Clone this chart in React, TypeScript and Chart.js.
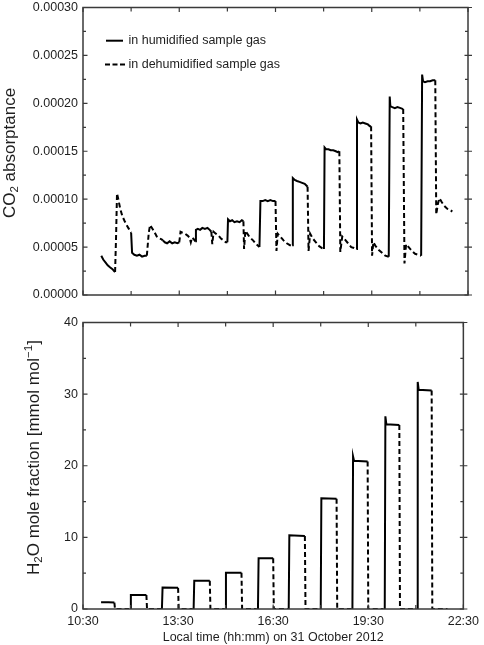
import React, { useEffect, useRef } from 'react';
import { Chart, registerables } from 'chart.js';

Chart.register(...registerables);

const FONT = '"Liberation Sans", Arial, Helvetica, sans-serif';
const TEXT = '#1e1e1e';
const AXIS = '#3a3a3a';
const LINE = '#000000';

// ---- axes ----
const timeMin = 10.5;
const timeMax = 22.5;
const timeTicks = [10.5, 13.5, 16.5, 19.5, 22.5];
const timeTickLabels = ['10:30', '13:30', '16:30', '19:30', '22:30'];
const timeMinorTicks = [12, 15, 18, 21];
const timeTitle = 'Local time (hh:mm) on 31 October 2012';

const co2Ticks = [0, 0.00005, 0.0001, 0.00015, 0.0002, 0.00025, 0.0003];
const co2TickLabels = ['0.00000', '0.00005', '0.00010', '0.00015', '0.00020', '0.00025', '0.00030'];
const co2MinorTicks = [0.000025, 0.000075, 0.000125, 0.000175, 0.000225, 0.000275];

const h2oTicks = [0, 10, 20, 30, 40];
const h2oTickLabels = ['0', '10', '20', '30', '40'];
const h2oMinorTicks = [5, 15, 25, 35];

const legendLabels = ['in humidified sample gas', 'in dehumidified sample gas'];

// ---- data: [time (h), value] segments ----
const co2Humidified: [number, number][][] = [
  [[11.07, 0.000041], [11.13, 0.000037], [11.2, 0.000034], [11.27, 0.000031], [11.34, 0.000029], [11.42, 0.000027], [11.47, 0.000025], [11.5, 0.000024]],
  [[12.0, 0.000065], [12.03, 0.000044], [12.1, 0.000042], [12.18, 0.000041], [12.26, 0.000042], [12.34, 0.00004], [12.42, 0.000041], [12.49, 0.000041]],
  [[12.99, 0.000057], [13.05, 0.000055], [13.12, 0.000054], [13.2, 0.000056], [13.28, 0.000054], [13.36, 0.000055], [13.44, 0.000054], [13.5, 0.000055]],
  [[14.0, 0.000056], [14.02, 0.000068], [14.08, 0.000069], [14.15, 0.000068], [14.22, 0.00007], [14.3, 0.000069], [14.38, 0.00007], [14.45, 0.000068], [14.5, 0.000066]],
  [[15.0, 0.000055], [15.02, 0.000079], [15.08, 0.000077], [15.15, 0.000078], [15.22, 0.000076], [15.3, 0.000077], [15.38, 0.000076], [15.45, 0.000078], [15.5, 0.000077]],
  [[16.0, 0.00005], [16.03, 0.000098], [16.1, 0.000098], [16.18, 0.000099], [16.26, 0.000098], [16.34, 0.000099], [16.42, 0.000098], [16.5, 0.000098]],
  [[17.02, 0.000052], [17.04, 0.000122], [17.1, 0.00012], [17.17, 0.000119], [17.25, 0.000118], [17.33, 0.000117], [17.41, 0.000116], [17.47, 0.000114], [17.5, 0.000113]],
  [[18.01, 0.000048], [18.03, 0.000154], [18.08, 0.000152], [18.15, 0.000152], [18.22, 0.000151], [18.3, 0.000151], [18.38, 0.00015], [18.44, 0.000149], [18.49, 0.00015]],
  [[19.02, 0.000048], [19.04, 0.000183], [19.08, 0.00018], [19.15, 0.000179], [19.22, 0.00018], [19.3, 0.000179], [19.38, 0.000178], [19.44, 0.000176], [19.48, 0.000176]],
  [[20.03, 0.00004], [20.06, 0.000207], [20.08, 0.000197], [20.14, 0.000196], [20.22, 0.000195], [20.3, 0.000196], [20.4, 0.000195], [20.48, 0.000194]],
  [[21.04, 0.000041], [21.07, 0.00023], [21.1, 0.000223], [21.16, 0.000222], [21.24, 0.000223], [21.32, 0.000223], [21.4, 0.000224], [21.48, 0.000224]],
];

const co2Dehumidified: [number, number][][] = [
  [[11.5, 0.000024], [11.53, 0.00006], [11.56, 0.000106], [11.6, 0.0001], [11.66, 0.00009], [11.73, 0.000082], [11.8, 0.000077], [11.86, 0.000073], [11.93, 0.000069], [12.0, 0.000065]],
  [[12.49, 0.000041], [12.55, 0.000065], [12.59, 0.000073], [12.65, 0.00007], [12.72, 0.000066], [12.8, 0.000061], [12.88, 0.000059], [12.95, 0.000058], [12.99, 0.000057]],
  [[13.5, 0.000055], [13.54, 0.000066], [13.6, 0.000065], [13.68, 0.000064], [13.76, 0.000062], [13.82, 0.00006], [13.86, 0.000055], [13.9, 0.00006], [13.96, 0.000058], [14.0, 0.000056]],
  [[14.5, 0.000066], [14.53, 0.000053], [14.57, 0.000066], [14.64, 0.000064], [14.72, 0.000062], [14.8, 0.000059], [14.88, 0.000057], [14.95, 0.000055], [15.0, 0.000055]],
  [[15.5, 0.000077], [15.52, 0.000048], [15.56, 0.000067], [15.62, 0.000064], [15.7, 0.00006], [15.8, 0.000057], [15.9, 0.000053], [16.0, 0.00005]],
  [[16.5, 0.000098], [16.53, 0.000046], [16.57, 0.000064], [16.65, 0.000061], [16.75, 0.000057], [16.85, 0.000054], [16.95, 0.000052], [17.02, 0.000052]],
  [[17.5, 0.000113], [17.53, 0.000046], [17.58, 0.000064], [17.66, 0.000059], [17.76, 0.000055], [17.86, 0.000051], [17.95, 0.000049], [18.01, 0.000048]],
  [[18.49, 0.00015], [18.52, 0.000045], [18.58, 0.000061], [18.66, 0.000058], [18.76, 0.000054], [18.86, 0.00005], [18.95, 0.000049], [19.02, 0.000048]],
  [[19.48, 0.000176], [19.51, 0.000041], [19.55, 0.000055], [19.62, 0.000051], [19.72, 0.000047], [19.82, 0.000044], [19.92, 0.000041], [20.03, 0.00004]],
  [[20.48, 0.000194], [20.52, 0.000033], [20.57, 0.000053], [20.65, 0.00005], [20.75, 0.000046], [20.85, 0.000043], [20.95, 0.000042], [21.04, 0.000041]],
  [[21.48, 0.000224], [21.51, 0.000084], [21.56, 0.000095], [21.61, 0.000101], [21.68, 0.000097], [21.76, 0.000093], [21.85, 0.00009], [21.94, 0.000089], [22.01, 0.000087]],
];

const h2oHumidified: [number, number][][] = [
  [[11.07, 0.95], [11.3, 0.95], [11.49, 0.9]],
  [[11.99, 0], [12.01, 1.95], [12.5, 1.95]],
  [[12.99, 0], [13.01, 3.0], [13.5, 2.95]],
  [[13.99, 0], [14.01, 3.95], [14.5, 3.95]],
  [[14.99, 0], [15.01, 5.05], [15.5, 5.05]],
  [[16.02, 0], [16.04, 7.1], [16.5, 7.1]],
  [[16.99, 0], [17.01, 10.3], [17.5, 10.2]],
  [[18.0, 0], [18.02, 15.45], [18.5, 15.4]],
  [[19.0, 0], [19.02, 21.3], [19.05, 20.7], [19.48, 20.6]],
  [[20.02, 0], [20.04, 26.9], [20.07, 25.8], [20.48, 25.7]],
  [[21.04, 0], [21.06, 31.7], [21.09, 30.6], [21.5, 30.5]],
];

const h2oDehumidified: [number, number][][] = [
  [[11.49, 0.9], [11.51, 0], [11.95, 0]],
  [[12.5, 1.95], [12.52, 0], [12.96, 0]],
  [[13.5, 2.95], [13.52, 0], [13.96, 0]],
  [[14.5, 3.95], [14.52, 0], [14.97, 0]],
  [[15.5, 5.05], [15.52, 0], [15.98, 0]],
  [[16.5, 7.1], [16.52, 0], [16.96, 0]],
  [[17.5, 10.2], [17.52, 0], [17.97, 0]],
  [[18.5, 15.4], [18.52, 0], [18.97, 0]],
  [[19.48, 20.6], [19.5, 0], [19.98, 0]],
  [[20.48, 25.7], [20.5, 0], [21.0, 0]],
  [[21.5, 30.5], [21.52, 0], [22.0, 0]],
];

// ---- helpers ----
function toPoints(segs: [number, number][][]) {
  const pts: { x: number; y: number | null }[] = [];
  segs.forEach((seg, i) => {
    if (i > 0) pts.push({ x: seg[0][0], y: null });
    seg.forEach(([x, y]) => pts.push({ x, y }));
  });
  return pts;
}

const DASH = [5, 3];

function lineDataset(segs: [number, number][][], dashed: boolean) {
  return {
    data: toPoints(segs),
    borderColor: LINE,
    borderWidth: 2,
    borderDash: dashed ? DASH : [],
    pointRadius: 0,
    tension: 0,
    spanGaps: false,
    fill: false,
  };
}

function framePlugin(yMajor: number[], yMinor: number[]) {
  return {
    id: 'frame',
    afterDatasetsDraw(chart: any) {
      const { ctx, chartArea: a, scales } = chart;
      const xs = scales.x;
      const ys = scales.y;
      ctx.save();
      ctx.strokeStyle = AXIS;
      ctx.lineWidth = 1.5;
      ctx.setLineDash([]);
      ctx.strokeRect(a.left, a.top, a.right - a.left, a.bottom - a.top);
      ctx.lineWidth = 1.2;
      ctx.beginPath();
      const seg = (x1: number, y1: number, x2: number, y2: number) => {
        ctx.moveTo(x1, y1);
        ctx.lineTo(x2, y2);
      };
      yMajor.forEach((v) => {
        const y = ys.getPixelForValue(v);
        seg(a.left, y, a.left + 4.5, y);
        seg(a.right - 3.5, y, a.right + 4, y);
      });
      yMinor.forEach((v) => {
        const y = ys.getPixelForValue(v);
        seg(a.left, y, a.left + 3, y);
        seg(a.right - 3, y, a.right, y);
      });
      timeTicks.forEach((v) => {
        const x = xs.getPixelForValue(v);
        seg(x, a.bottom, x, a.bottom - 4.5);
        seg(x, a.top, x, a.top + 4.5);
      });
      timeMinorTicks.forEach((v) => {
        const x = xs.getPixelForValue(v);
        seg(x, a.bottom, x, a.bottom - 4);
        seg(x, a.top, x, a.top + 4);
      });
      ctx.stroke();
      ctx.restore();
    },
  };
}

type Run = { t: string; size: number; dy: number };

function yTitlePlugin(runs: Run[], cx: number, cy: number) {
  return {
    id: 'ytitle',
    afterDraw(chart: any) {
      const ctx = chart.ctx;
      ctx.save();
      ctx.translate(cx, cy);
      ctx.rotate(-Math.PI / 2);
      ctx.fillStyle = TEXT;
      ctx.textAlign = 'left';
      ctx.textBaseline = 'alphabetic';
      let total = 0;
      const widths = runs.map((r) => {
        ctx.font = `${r.size}px ${FONT}`;
        const w = ctx.measureText(r.t).width;
        total += w;
        return w;
      });
      let x = -total / 2;
      runs.forEach((r, i) => {
        ctx.font = `${r.size}px ${FONT}`;
        ctx.fillText(r.t, x, r.dy);
        x += widths[i];
      });
      ctx.restore();
    },
  };
}

const legendPlugin = {
  id: 'customLegend',
  afterDraw(chart: any) {
    const ctx = chart.ctx;
    ctx.save();
    ctx.strokeStyle = LINE;
    ctx.lineWidth = 2;
    // solid sample
    ctx.setLineDash([]);
    ctx.beginPath();
    ctx.moveTo(106, 45.7);
    ctx.lineTo(123, 45.7);
    ctx.stroke();
    // dashed sample
    ctx.setLineDash([5, 2.5]);
    ctx.beginPath();
    ctx.moveTo(105, 69.5);
    ctx.lineTo(125, 69.5);
    ctx.stroke();
    ctx.setLineDash([]);
    ctx.fillStyle = TEXT;
    ctx.font = `12.5px ${FONT}`;
    ctx.textAlign = 'left';
    ctx.textBaseline = 'middle';
    ctx.fillText(legendLabels[0], 128.5, 46);
    ctx.fillText(legendLabels[1], 128.5, 69.5);
    ctx.restore();
  },
};

const tickFont = { family: FONT, size: 12.5 };

function yScale(min: number, max: number, ticks: number[], labels: string[]) {
  return {
    type: 'linear',
    min,
    max,
    grid: { display: false, drawTicks: false },
    border: { display: false },
    afterBuildTicks: (s: any) => {
      s.ticks = ticks.map((v) => ({ value: v }));
    },
    afterFit: (s: any) => {
      s.width = 83;
    },
    ticks: {
      padding: 5,
      color: TEXT,
      font: tickFont,
      autoSkip: false,
      callback: (_v: any, i: number) => labels[i],
    },
  };
}

function topConfig(): any {
  return {
    type: 'line',
    data: {
      datasets: [lineDataset(co2Humidified, false), lineDataset(co2Dehumidified, true)],
    },
    options: {
      animation: false,
      responsive: false,
      maintainAspectRatio: false,
      layout: { padding: { top: 10, right: 16, bottom: 15, left: 0 } },
      plugins: { legend: { display: false }, tooltip: { enabled: false } },
      scales: {
        x: { type: 'linear', min: timeMin, max: timeMax, display: false },
        y: yScale(0, 0.0003, co2Ticks, co2TickLabels),
      },
    },
    plugins: [
      framePlugin(co2Ticks, co2MinorTicks),
      legendPlugin,
      yTitlePlugin(
        [
          { t: 'CO', size: 17, dy: 0 },
          { t: '2', size: 11.5, dy: 3.5 },
          { t: ' absorptance', size: 17, dy: 0 },
        ],
        14.5,
        158
      ),
    ],
  };
}

function bottomConfig(): any {
  return {
    type: 'line',
    data: {
      datasets: [lineDataset(h2oHumidified, false), lineDataset(h2oDehumidified, true)],
    },
    options: {
      animation: false,
      responsive: false,
      maintainAspectRatio: false,
      layout: { padding: { top: 10, right: 16, bottom: 0, left: 0 } },
      plugins: { legend: { display: false }, tooltip: { enabled: false } },
      scales: {
        x: {
          type: 'linear',
          min: timeMin,
          max: timeMax,
          grid: { display: false, drawTicks: false },
          border: { display: false },
          afterBuildTicks: (s: any) => {
            s.ticks = timeTicks.map((v) => ({ value: v }));
          },
          afterFit: (s: any) => {
            s.height = 36;
          },
          ticks: {
            autoSkip: false,
            maxRotation: 0,
            minRotation: 0,
            padding: 5,
            color: TEXT,
            font: tickFont,
            callback: (_v: any, i: number) => timeTickLabels[i],
          },
          title: {
            display: true,
            text: timeTitle,
            color: TEXT,
            font: tickFont,
            padding: { top: 0, bottom: 0 },
          },
        },
        y: yScale(0, 40, h2oTicks, h2oTickLabels),
      },
    },
    plugins: [
      framePlugin(h2oTicks, h2oMinorTicks),
      yTitlePlugin(
        [
          { t: 'H', size: 17, dy: 0 },
          { t: '2', size: 11.5, dy: 3.5 },
          { t: 'O mole fraction [mmol mol', size: 17, dy: 0 },
          { t: '\u22121', size: 11.5, dy: -7 },
          { t: ']', size: 17, dy: 0 },
        ],
        38.5,
        147.5
      ),
    ],
  };
}

function ChartCanvas({ top, height, build }: { top: number; height: number; build: () => any }) {
  const ref = useRef<HTMLCanvasElement | null>(null);
  useEffect(() => {
    if (!ref.current) return;
    const chart = new Chart(ref.current, build());
    return () => chart.destroy();
  }, [build]);
  return (
    <canvas
      ref={ref}
      width={484}
      height={height}
      style={{ position: 'absolute', left: 0, top, width: 484, height, display: 'block' }}
    />
  );
}

export default function App() {
  return (
    <div
      style={{
        position: 'absolute',
        left: 0,
        top: 0,
        width: 484,
        height: 645,
        background: '#ffffff',
        overflow: 'hidden',
      }}
    >
      <ChartCanvas top={-5} height={315} build={topConfig} />
      <ChartCanvas top={310} height={335} build={bottomConfig} />
    </div>
  );
}
